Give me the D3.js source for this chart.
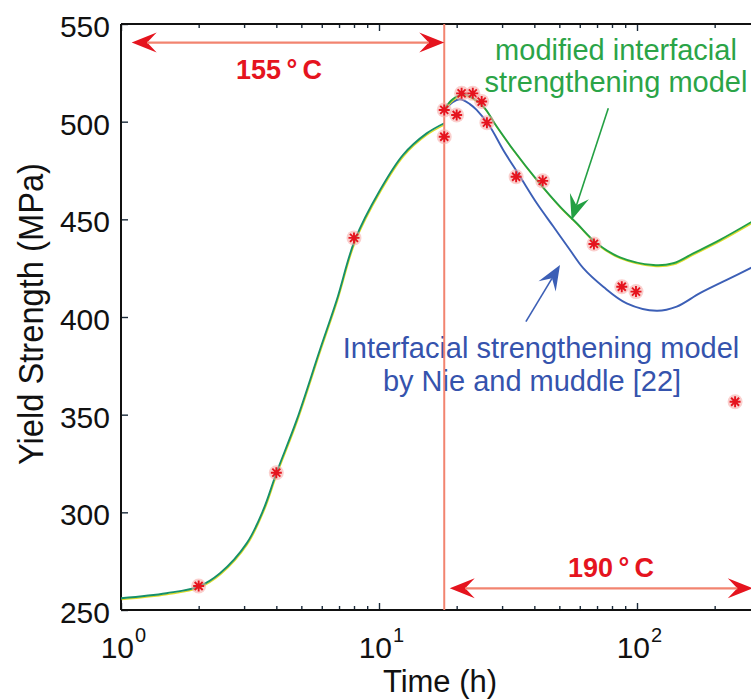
<!DOCTYPE html>
<html><head><meta charset="utf-8">
<script src="https://cdn.jsdelivr.net/npm/d3@7"></script>
<style>
html,body{margin:0;padding:0;background:#fff;}
svg{display:block;font-family:"Liberation Sans",Arial,Helvetica,sans-serif;}
</style></head><body>
<svg id="chart" width="751" height="699"></svg>
<script>
// ---------------- data ----------------
// model curve during ageing at 155 °C (both models coincide)
const time155 = [1, 1.5, 2, 2.42, 3.07, 3.56, 4.0, 4.8, 5.9, 6.86, 8.07, 10.1, 12.4, 15.3, 17.9];
const strength155 = [256, 258.6, 262, 268.8, 284.1, 301.2, 320, 347.3, 383.1, 408.7, 439.5, 465, 483, 494, 499.2];
// modified interfacial strengthening model at 190 °C
const timeModified = [17.9, 19.3, 21.0, 22.5, 25.4, 28.6, 33.2, 40.9, 50.3, 58.4, 69.8, 85.9, 115.7, 138.2, 165.3, 209.8, 285];
const strengthModified = [506.5, 511.5, 514, 513, 507.7, 497.5, 485.5, 470.2, 456.5, 448, 437.7, 430.5, 426.6, 427.5, 432.6, 439.5, 449.5];
// interfacial strengthening model by Nie and Muddle at 190 °C
const timeNie = [17.9, 19.3, 20.6, 22.5, 23.9, 26.9, 30.3, 35.2, 40.9, 47.4, 55.0, 61.9, 74.0, 91.2, 119.2, 142.5, 175.4, 222.7, 285];
const strengthNie = [505.5, 510, 511.5, 509, 506, 497.5, 485.5, 471.9, 458.2, 446.3, 434.3, 425, 415.5, 407, 403.2, 405.3, 412.2, 419, 426];
// experimental points
const expTime = [2, 4, 8, 17.9, 17.9, 20.0, 20.9, 23.1, 25.0, 26.2, 34.0, 43.1, 68.1, 87.3, 99.1, 240];
const expStrength = [262.3, 320.3, 440.5, 506, 492.3, 503.4, 514.5, 514.5, 510.3, 499.5, 471.8, 469.7, 437.4, 415.5, 413, 356.6];
// ticks
const yTicks = [250, 300, 350, 400, 450, 500, 550];
const xDecades = [1, 10, 100, 1000];
const xLabelDecades = [1, 10, 100];
const xDecadeExp = ["0", "1", "2"];
const xMinor = [2,3,4,5,6,7,8,9,20,30,40,50,60,70,80,90,200,300,400,500,600,700,800,900];
// temperature switch
const switchTime = 17.9;

// ---------------- scales ----------------
const svg = d3.select("#chart");
const x = d3.scaleLog().domain([1, 1000]).range([121, 895]);
const y = d3.scaleLinear().domain([250, 550]).range([610, 24]);

const RED = "#e5141e", REDLINE = "#f28470", GREEN = "#23a043", GREENTXT = "#2ba447", BLUE = "#3c5fb6", BLUETXT = "#3553ad";

// ---------------- axes ----------------
const axG = svg.append("g");
function tickAxis(gen, tr, vals, size) {
  const g = axG.append("g").attr("transform", tr)
    .call(gen.tickValues(vals).tickSize(size).tickSizeOuter(0).tickFormat(""));
  g.select(".domain").remove();
  g.selectAll(".tick line").attr("stroke", "#1a2a3a").attr("stroke-width", 1.4);
  return g;
}
tickAxis(d3.axisBottom(x), `translate(0,${y(250)})`, xDecades, -7);
tickAxis(d3.axisBottom(x), `translate(0,${y(250)})`, xMinor, -4);
tickAxis(d3.axisTop(x), `translate(0,${y(550)})`, xDecades, -7);
tickAxis(d3.axisTop(x), `translate(0,${y(550)})`, xMinor, -4);
const yAx = axG.append("g").attr("transform", `translate(${x(1)},0)`)
  .call(d3.axisLeft(y).tickValues(yTicks).tickSize(-7).tickSizeOuter(0).tickPadding(11).tickFormat(d3.format("d")));
yAx.select(".domain").remove();
yAx.selectAll(".tick line").attr("stroke", "#1a2a3a").attr("stroke-width", 1.4);
yAx.selectAll(".tick text").attr("font-size", 30).attr("fill", "#111")
  .attr("font-family", "'Liberation Sans',Arial,sans-serif").attr("dy", "0.42em");

// frame lines
axG.append("line").attr("x1", x(1)).attr("x2", x(1)).attr("y1", y(550)).attr("y2", y(250)).attr("stroke", "#111").attr("stroke-width", 2);
axG.append("line").attr("x1", x(1)).attr("x2", x(1000)).attr("y1", y(250)).attr("y2", y(250)).attr("stroke", "#111").attr("stroke-width", 2);
axG.append("line").attr("x1", x(1)).attr("x2", x(1000)).attr("y1", y(550)).attr("y2", y(550)).attr("stroke", "#111").attr("stroke-width", 2);

// x tick labels 10^n
xLabelDecades.forEach((d, i) => {
  const t = svg.append("g").attr("fill", "#111");
  t.append("text").attr("x", x(d) + 13).attr("y", 658).attr("text-anchor", "end").attr("font-size", 30).text("10");
  t.append("text").attr("x", x(d) + 14).attr("y", 642).attr("font-size", 20).text(xDecadeExp[i]);
});

// axis titles
svg.append("text").attr("x", 440).attr("y", 692).attr("text-anchor", "middle").attr("font-size", 31).attr("fill", "#111").text("Time (h)");
svg.append("text").attr("transform", "translate(43,314) rotate(-90)").attr("text-anchor", "middle")
  .attr("font-size", 35).attr("textLength", 302).attr("lengthAdjust", "spacingAndGlyphs").attr("fill", "#111").text("Yield Strength (MPa)");

// ---------------- curves ----------------
const line = d3.line().x(d => x(d[0])).y(d => y(d[1])).curve(d3.curveCatmullRom.alpha(0.5));
const zip = (a, b) => a.map((v, i) => [v, b[i]]);
function drawCurve(data, color, yellow) {
  if (yellow) svg.append("path").attr("d", line(data)).attr("fill", "none").attr("stroke", "#e0dc2a")
    .attr("stroke-width", 1.4).attr("transform", "translate(0.6,1.3)");
  svg.append("path").attr("d", line(data)).attr("fill", "none").attr("stroke", color).attr("stroke-width", 1.9);
}
drawCurve(zip(timeNie, strengthNie), BLUE, false);
drawCurve(zip(timeModified, strengthModified), GREEN, true);
drawCurve(zip(time155, strength155), "#16906a", true);

// ---------------- annotation texts ----------------
const txt = (xx, yy, s, col, size, weight) => svg.append("text").attr("x", xx).attr("y", yy).attr("text-anchor", "middle")
  .attr("font-size", size).attr("font-weight", weight || "normal").attr("fill", col).text(s);
txt(279, 79, "155\u2009°\u2009C", RED, 27, "bold");
txt(611, 577, "190\u2009°\u2009C", RED, 27, "bold");
txt(616, 60, "modified interfacial", GREENTXT, 29);
txt(616, 92, "strengthening model", GREENTXT, 29);
txt(541, 358, "Interfacial strengthening model", BLUETXT, 29);
txt(532, 391, "by Nie and muddle [22]", BLUETXT, 29);

// vertical switch line
svg.append("line").attr("x1", x(switchTime)).attr("x2", x(switchTime)).attr("y1", y(550)).attr("y2", y(250))
  .attr("stroke", REDLINE).attr("stroke-width", 2);

// ---------------- arrows ----------------
function head(tip, tail, color, L, W) {
  const dx = tip[0] - tail[0], dy = tip[1] - tail[1], len = Math.hypot(dx, dy);
  const ux = dx / len, uy = dy / len, nx = -uy, ny = ux;
  const bx = tip[0] - L * ux, by = tip[1] - L * uy;
  const notch = [tip[0] - 0.62 * L * ux, tip[1] - 0.62 * L * uy];
  svg.append("path").attr("d", `M${tip}L${bx + nx * W / 2},${by + ny * W / 2}L${notch}L${bx - nx * W / 2},${by - ny * W / 2}Z`)
    .attr("fill", color);
  return notch;
}
function arrow(t0, v0, t1, v1, color, shaft, double, w) {
  const p0 = [x(t0), y(v0)], p1 = [x(t1), y(v1)];
  const n1 = head(p1, p0, color, 25, 20);
  const n0 = double ? head(p0, p1, color, 25, 20) : p0;
  svg.append("line").attr("x1", n0[0]).attr("y1", n0[1]).attr("x2", n1[0]).attr("y2", n1[1])
    .attr("stroke", shaft).attr("stroke-width", w);
}
arrow(1.10, 540.5, switchTime, 540.5, RED, REDLINE, true, 2.2);
arrow(18.8, 261.1, 281, 261.1, RED, REDLINE, true, 2.2);
arrow(77.4, 506.9, 55.8, 449.7, GREEN, GREEN, false, 1.6);
arrow(37.1, 397.6, 50.3, 426.6, BLUE, BLUE, false, 1.6);

// ---------------- experimental markers ----------------
const mk = svg.append("g");
zip(expTime, expStrength).forEach(d => {
  const g = mk.append("g").attr("transform", `translate(${x(d[0])},${y(d[1])})`);
  g.append("circle").attr("r", 7.5).attr("fill", "#f6a8a4").attr("opacity", 0.55);
  g.append("path").attr("d", "M-5.5,0H5.5M0,-5.5V5.5M-4,-4L4,4M-4,4L4,-4")
    .attr("stroke", RED).attr("stroke-width", 1.9).attr("fill", "none");
});
</script>
</body></html>
